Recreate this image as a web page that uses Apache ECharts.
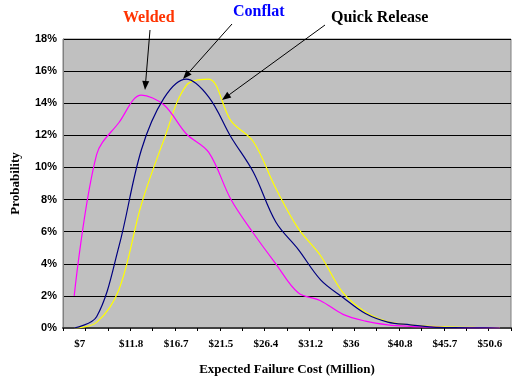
<!DOCTYPE html>
<html><head><meta charset="utf-8">
<script src="https://cdn.jsdelivr.net/npm/echarts@6/dist/echarts.min.js"></script>
<style>html,body{margin:0;padding:0;background:#fff}#c{width:512px;height:381px}</style>
</head><body><div id="c"></div>
<script>
const categories = ["$7","$9.4","$11.8","$14.3","$16.7","$19.1","$21.5","$24","$26.4","$28.8","$31.2","$33.6","$36","$38.5","$40.8","$43.3","$45.7","$48.1","$50.6","$53"];
const welded = [0.020,0.108,0.128,0.145,0.139,0.121,0.1095,0.080,0.059,0.040,0.022,0.017,0.0085,0.0043,0.002,0.001,0.0005,0.0002,0.0001,0.0];
const conflat = [0.0,0.007,0.051,0.111,0.143,0.155,0.144,0.119,0.097,0.066,0.049,0.030,0.019,0.009,0.0037,0.002,0.0006,0.0002,0.0001,0.0];
const quickRelease = [0.0,0.0035,0.024,0.077,0.117,0.151,0.155,0.129,0.116,0.087,0.062,0.045,0.022,0.010,0.004,0.002,0.001,0.0005,0.0003,0.0002];
const seriesNames = ["Welded","Conflat","Quick Release"];

const chart = echarts.init(document.getElementById('c'));
function arrow(x1,y1,x2,y2){
  const dx=x2-x1, dy=y2-y1, L=Math.hypot(dx,dy), ux=dx/L, uy=dy/L;
  const hl=9, hw=3.5;
  const bx=x2-ux*hl, by=y2-uy*hl;
  return [
    {type:'line',shape:{x1:x1,y1:y1,x2:bx,y2:by},style:{stroke:'#000',lineWidth:1},z:100},
    {type:'polygon',shape:{points:[[x2,y2],[bx-uy*hw,by+ux*hw],[bx+uy*hw,by-ux*hw]]},style:{fill:'#000'},z:100}
  ];
}
const labelFont = {fontFamily:'Liberation Serif',fontWeight:'bold',fontSize:16};
chart.setOption({
  animation:false,
  backgroundColor:'#fff',
  grid:{left:63,right:1,top:39,bottom:52,show:true,backgroundColor:'#c0c0c0',borderColor:'#808080',borderWidth:1},
  xAxis:{type:'category',data:categories,boundaryGap:true,
    name:'Expected Failure Cost (Million)',nameLocation:'middle',nameGap:35,
    nameTextStyle:{fontFamily:'Liberation Serif',fontWeight:'bold',fontSize:13,color:'#000'},
    axisLine:{lineStyle:{color:'#404040',width:2}},
    axisTick:{show:true,interval:0,length:3,lineStyle:{color:'#000'}},
    axisLabel:{interval:1,align:'left',margin:11,fontFamily:'Liberation Serif',fontWeight:'bold',fontSize:11,color:'#000'},
    splitLine:{show:false}},
  yAxis:{type:'value',min:0,max:0.18,interval:0.02,
    name:'Probability',nameLocation:'middle',nameGap:41,nameRotate:90,
    nameTextStyle:{fontFamily:'Liberation Serif',fontWeight:'bold',fontSize:13,color:'#000'},
    axisLine:{show:true,lineStyle:{color:'#808080',width:1}},
    axisTick:{show:false},
    axisLabel:{margin:6,fontFamily:'Liberation Sans',fontWeight:'bold',fontSize:11,color:'#000',
      formatter:v=>Math.round(v*100)+'%'},
    splitLine:{show:true,lineStyle:{color:'#000',width:1}}},
  series:[
    {name:seriesNames[0],type:'line',data:welded,smooth:0.35,symbol:'none',lineStyle:{color:'#ff00ff',width:1.2},z:3},
    {name:seriesNames[1],type:'line',data:conflat,smooth:0.35,symbol:'none',lineStyle:{color:'#000080',width:1.2},z:4},
    {name:seriesNames[2],type:'line',data:quickRelease,smooth:0.35,symbol:'none',lineStyle:{color:'#ffff00',width:1.2},z:2}
  ],
  graphic:[
    {type:'text',left:150-27,top:10,style:Object.assign({text:seriesNames[0],fill:'#ff3300'},labelFont)},
    {type:'text',left:259-26,top:4,style:Object.assign({text:seriesNames[1],fill:'#0000ff'},labelFont)},
    {type:'text',left:331,top:10,style:Object.assign({text:seriesNames[2],fill:'#000'},labelFont)},
    ...arrow(150,30,145,90),
    ...arrow(232,24,183,79),
    ...arrow(325,25,222,100)
  ]
});
</script></body></html>
